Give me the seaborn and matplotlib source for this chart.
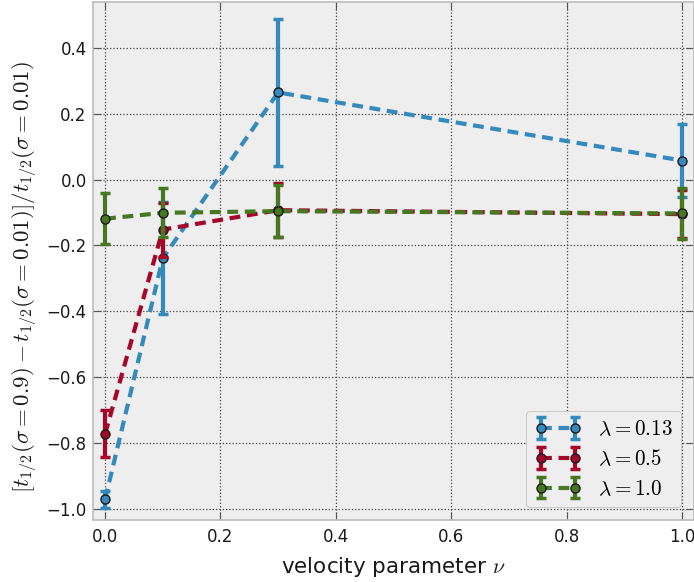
import matplotlib
matplotlib.use("Agg")
import matplotlib.pyplot as plt
import seaborn as sns
import pandas as pd
from matplotlib.container import ErrorbarContainer

# ---- data ----
nu = [0.0, 0.1, 0.3, 1.0]
lam_labels = [r"$\lambda = 0.13$", r"$\lambda = 0.5$", r"$\lambda = 1.0$"]
y_013 = [-0.972, -0.239, 0.265, 0.058]
e_013 = [0.025, 0.170, 0.224, 0.112]
y_05 = [-0.773, -0.152, -0.093, -0.105]
e_05 = [0.071, 0.082, 0.082, 0.072]
y_10 = [-0.119, -0.101, -0.096, -0.103]
e_10 = [0.078, 0.074, 0.080, 0.077]
colors = ["#348ABD", "#A60628", "#467821"]

plt.style.use("bmh")
sns.set_style({"axes.facecolor": "#eeeeee"})
plt.rcParams["mathtext.fontset"] = "cm"
plt.rcParams["font.family"] = ["DejaVu Sans"]

rows = []
for lab, ys in zip(lam_labels, [y_013, y_05, y_10]):
    for xv, yv in zip(nu, ys):
        rows.append({"nu": xv, "val": yv, "lam": lab})
df = pd.DataFrame(rows)

fig = plt.figure(figsize=(6.94, 5.82), dpi=100)
ax = fig.add_axes([0.134, 0.1065, 0.866, 0.8901])
ax.set_facecolor("#eeeeee")

handles = []
for i, (lab, ys, es) in enumerate(zip(lam_labels, [y_013, y_05, y_10], [e_013, e_05, e_10])):
    sub = df[df["lam"] == lab]
    n_before = len(ax.lines)
    sns.lineplot(data=sub, x="nu", y="val", ax=ax, color=colors[i], errorbar=None,
                 linestyle="--", linewidth=3, marker="o", markersize=6.5,
                 markeredgecolor="#1a1a1a", markeredgewidth=1.0, legend=False,
                 zorder=3 + i * 0.1)
    line = ax.lines[n_before]
    line.set_dashes((2.6, 1.6))
    cont = ax.errorbar(nu, ys, yerr=es, fmt="none", ecolor=colors[i], elinewidth=3,
                       capsize=3.5, capthick=2.5, zorder=2.9 + i * 0.1)
    handles.append(ErrorbarContainer((line, cont.lines[1], cont.lines[2]),
                                     has_xerr=False, has_yerr=True, label=lab))

ax.set_xlim(-0.021, 1.021)
ax.set_ylim(-1.035, 0.54)
ax.set_xticks([0.0, 0.2, 0.4, 0.6, 0.8, 1.0])
ax.set_yticks([-1.0, -0.8, -0.6, -0.4, -0.2, 0.0, 0.2, 0.4])
ax.set_xticklabels(["0.0", "0.2", "0.4", "0.6", "0.8", "1.0"])
ax.set_yticklabels(["\u22121.0", "\u22120.8", "\u22120.6", "\u22120.4", "\u22120.2", "0.0", "0.2", "0.4"])

ax.grid(True, color="#444444", linestyle=":", linewidth=0.9)
ax.set_axisbelow(True)
for s in ax.spines.values():
    s.set_color("#bcbcbc")
    s.set_linewidth(1.2)
ax.tick_params(direction="in", length=6, color="#555555", labelsize=12,
               top=True, right=True, labelcolor="#1a1a1a")
ax.tick_params(axis="y", pad=4.5)
ax.tick_params(axis="x", pad=6)

ax.set_xlabel(r"velocity parameter $\nu$", fontsize=15.5, color="#1a1a1a", labelpad=6)
ax.set_ylabel(r"$[t_{1/2}(\sigma = 0.9) - t_{1/2}(\sigma = 0.01)]/t_{1/2}(\sigma = 0.01)$",
              fontsize=16.5, color="#1a1a1a")
ax.yaxis.set_label_coords(-0.09, 0.47)

leg = ax.legend(handles=handles, loc="lower right", numpoints=2, fontsize=15.2,
                frameon=True, fancybox=True, borderaxespad=0.6, handlelength=2.2,
                borderpad=0.4, labelspacing=0.45)
leg.get_frame().set_facecolor("#eeeeee")
leg.get_frame().set_edgecolor("#bcbcbc")
leg.get_frame().set_alpha(1.0)

fig.savefig("out.png", dpi=100)
